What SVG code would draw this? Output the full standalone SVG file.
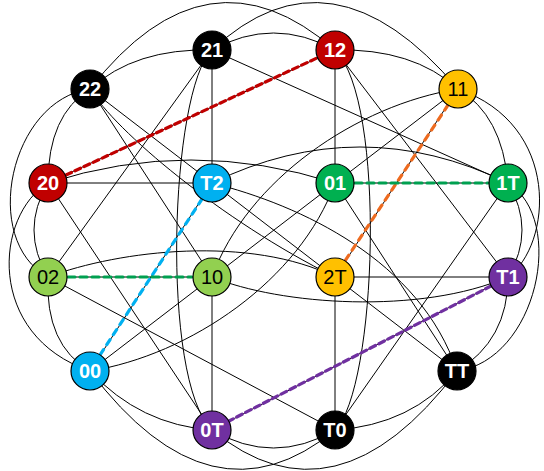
<svg xmlns="http://www.w3.org/2000/svg" width="544" height="471" viewBox="0 0 544 471">
<style>
.e{fill:none;stroke:#000;stroke-width:1}
.d{fill:none;stroke-width:3.2;stroke-linecap:round}
.n circle{stroke:#000;stroke-width:1.2}
.n text{font-family:"Liberation Sans",Arial,sans-serif;font-size:20px;font-weight:bold;text-anchor:middle;fill:#fff}
.n text.k{fill:#000;font-weight:normal}
</style>
<rect width="544" height="471" fill="#fff"/>
<g id="connectors">
<path class="e" d="M90,89 Q207.5,-61.5 335,50"/>
<path class="e" d="M212,50 Q331,-61.5 458,89"/>
<path class="e" d="M90,89 Q135,48 212,50"/>
<path class="e" d="M212,50 Q273.5,16 335,50"/>
<path class="e" d="M335,50 Q413,48 458,89"/>
<path class="e" d="M212,50 L212,183"/>
<path class="e" d="M335,50 L335,183"/>
<path class="e" d="M212,277 L212,430"/>
<path class="e" d="M335,277 L335,430"/>
<path class="e" d="M212,50 L48,277"/>
<path class="e" d="M335,430 L508,183"/>
<path class="e" d="M212,50 L508,183"/>
<path class="e" d="M335,430 L48,277"/>
<path class="e" d="M335,50 L508,277"/>
<path class="e" d="M212,430 L48,183"/>
<path class="e" d="M90,89 L457,371"/>
<path class="e" d="M48,183 L212,183"/>
<path class="e" d="M335,277 L508,277"/>
<path class="e" d="M48,277 L212,277"/>
<path class="e" d="M335,183 L508,183"/>
<path class="e" d="M90,371 L458,89"/>
<path class="e" d="M458,89 C357,105 247,180 212,277"/>
<path class="e" d="M90,371 C190,355 300,280 335,183"/>
<path class="e" d="M90,89 C115,130 220,220 335,277"/>
<path class="e" d="M212,183 C300,205 420,260 457,371"/>
<path class="e" d="M212,183 Q360,111 508,183"/>
<path class="e" d="M48,277 C120,250 250,235 335,277"/>
<path class="e" d="M48,183 Q190.5,137 335,183"/>
<path class="e" d="M508,277 C420,315 280,305 212,277"/>
<path class="e" d="M90,89 Q48,115 48,183"/>
<path class="e" d="M90,89 C10,100 -20,240 48,277"/>
<path class="e" d="M48,183 Q20,230 48,277"/>
<path class="e" d="M48,183 C-5,215 -15,335 90,371"/>
<path class="e" d="M48,277 Q45,345 90,371"/>
<path class="e" d="M457,371 Q508,340 508,277"/>
<path class="e" d="M457,371 C537,360 567,220 508,183"/>
<path class="e" d="M508,277 Q536,230 508,183"/>
<path class="e" d="M508,277 C552,245 562,125 458,89"/>
<path class="e" d="M508,183 Q502,115 458,89"/>
<path class="e" d="M90,371 Q140,425 212,430"/>
<path class="e" d="M212,430 Q273.5,466 335,430"/>
<path class="e" d="M212,430 Q335.5,531.5 457,371"/>
<path class="e" d="M90,371 Q211.5,531.5 335,430"/>
<path class="e" d="M335,430 Q412,425 457,371"/>
<path class="e" d="M212,50 C170,90 160,380 212,430"/>
<path class="e" d="M335,430 C377,390 387,100 335,50"/>
<path class="e" d="M48,183 L335,50"/>
<path class="e" d="M458,89 L335,277"/>
<path class="e" d="M212,183 L90,371"/>
<path class="e" d="M508,277 L212,430"/>
<path class="e" d="M90,89 L212,277"/>
<path class="e" d="M457,371 L335,183"/>
<path class="d" stroke="#C00000" stroke-dasharray="6 4" d="M66,175 L317,58"/>
<path class="d" stroke="#ED6A1F" stroke-dasharray="6 6" d="M448,105 L345,261"/>
<path class="d" stroke="#00B0F0" stroke-dasharray="6 6" d="M202,199 L100,355"/>
<path class="d" stroke="#7030A0" stroke-dasharray="6 4" d="M491,286 L229,421"/>
<path class="d" stroke="#00A050" stroke-dasharray="7 5" d="M68,277 L192,277"/>
<path class="d" stroke="#00A050" stroke-dasharray="7 5" d="M355,183 L488,183"/>
</g>
<g id="n22" class="n"><circle cx="90" cy="89" r="19" fill="#000"/><text x="90" y="96">22</text></g>
<g id="n21" class="n"><circle cx="212" cy="50" r="19" fill="#000"/><text x="212" y="57">21</text></g>
<g id="n12" class="n"><circle cx="335" cy="50" r="19" fill="#C00000"/><text x="335" y="57">12</text></g>
<g id="n11" class="n"><circle cx="458" cy="89" r="19" fill="#FFC000"/><text class="k" x="458" y="96">11</text></g>
<g id="n20" class="n"><circle cx="48" cy="183" r="19" fill="#C00000"/><text x="48" y="190">20</text></g>
<g id="nT2" class="n"><circle cx="212" cy="183" r="19" fill="#00B0F0"/><text x="212" y="190">T2</text></g>
<g id="n01" class="n"><circle cx="335" cy="183" r="19" fill="#00B050"/><text x="335" y="190">01</text></g>
<g id="n1T" class="n"><circle cx="508" cy="183" r="19" fill="#00B050"/><text x="508" y="190">1T</text></g>
<g id="n02" class="n"><circle cx="48" cy="277" r="19" fill="#92D050"/><text class="k" x="48" y="284">02</text></g>
<g id="n10" class="n"><circle cx="212" cy="277" r="19" fill="#92D050"/><text class="k" x="212" y="284">10</text></g>
<g id="n2T" class="n"><circle cx="335" cy="277" r="19" fill="#FFC000"/><text class="k" x="335" y="284">2T</text></g>
<g id="nT1" class="n"><circle cx="508" cy="277" r="19" fill="#7030A0"/><text x="508" y="284">T1</text></g>
<g id="n00" class="n"><circle cx="90" cy="371" r="19" fill="#00B0F0"/><text x="90" y="378">00</text></g>
<g id="n0T" class="n"><circle cx="212" cy="430" r="19" fill="#7030A0"/><text x="212" y="437">0T</text></g>
<g id="nT0" class="n"><circle cx="335" cy="430" r="19" fill="#000"/><text x="335" y="437">T0</text></g>
<g id="nTT" class="n"><circle cx="457" cy="371" r="19" fill="#000"/><text x="457" y="378">TT</text></g>
</svg>
